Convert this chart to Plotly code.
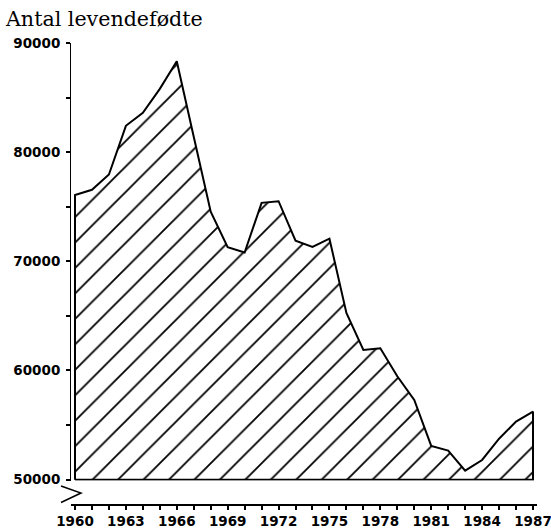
import plotly.graph_objects as go

years = list(range(1960, 1988))
births = [76077, 76556, 77954, 82413, 83600, 85796, 88332, 81410, 74543, 71298,
          70802, 75359, 75505, 71895, 71327, 72071, 65267, 61878, 62036, 59464,
          57293, 53089, 52658, 50822, 51800, 53749, 55312, 56221]
baseline = 50000
y_tickvals = list(range(50000, 90001, 5000))
y_ticktext = [str(v) if v % 10000 == 0 else "" for v in y_tickvals]
x_tickvals = years
x_ticktext = [str(y) if (y - 1960) % 3 == 0 else "" for y in years]
title_text = "Antal levendefødte"

# closed polygon: data line plus vertical edges and base line
poly_x = [years[0]] + years + [years[-1], years[0]]
poly_y = [baseline] + births + [baseline, baseline]

W, H = 551, 532
ml, mr, mt, mb = 71, 14, 43, 27
pw, ph = W - ml - mr, H - mt - mb

fig = go.Figure()
fig.add_trace(go.Scatter(
    x=poly_x, y=poly_y, mode="lines", fill="toself",
    line=dict(color="black", width=2),
    fillcolor="white",
    fillpattern=dict(shape="/", fgcolor="black", fgopacity=1, bgcolor="white",
                     size=18, solidity=0.1),
    hoverinfo="skip", showlegend=False,
))

tick_font = dict(family="DejaVu Sans", size=13.5, color="black", weight="bold")

fig.update_layout(
    width=W, height=H,
    margin=dict(l=ml, r=mr, t=mt, b=mb, autoexpand=False),
    paper_bgcolor="white", plot_bgcolor="white",
    title=dict(text=title_text, x=6 / W, xanchor="left", xref="container",
               y=1 - 19 / H, yanchor="middle", yref="container", automargin=False,
               font=dict(family="DejaVu Serif", size=20.6, color="black")),
    xaxis=dict(range=[1959.764, 1987.236], anchor="free", position=0,
               automargin=False, ticklabeloverflow="allow",
               showline=True, linecolor="black", linewidth=1.5,
               ticks="outside", ticklen=4, tickwidth=1.5, tickcolor="black",
               tickvals=x_tickvals, ticktext=x_ticktext, tickfont=tick_font,
               showgrid=False, zeroline=False),
    yaxis=dict(range=[49920, 90000], domain=[(505 - 480.5) / ph, 1],
               automargin=False, ticklabeloverflow="allow",
               showline=True, linecolor="black", linewidth=1,
               ticks="outside", ticklen=4, tickwidth=1.5, tickcolor="black",
               tickvals=y_tickvals, ticktext=y_ticktext, tickfont=tick_font,
               ticklabelstandoff=3,
               showgrid=False, zeroline=False),
    shapes=[dict(type="path", xref="paper", yref="paper",
                 path="M %f %f L %f %f L %f %f" % (
                     (61 - ml) / pw, (505 - 486) / ph,
                     (81 - ml) / pw, (505 - 493) / ph,
                     (61 - ml) / pw, (505 - 502.5) / ph),
                 line=dict(color="black", width=1.5))],
)

fig.write_html("out.html", config={"displayModeBar": False},
               post_script="document.body.style.margin='0';document.body.style.overflow='hidden';")
